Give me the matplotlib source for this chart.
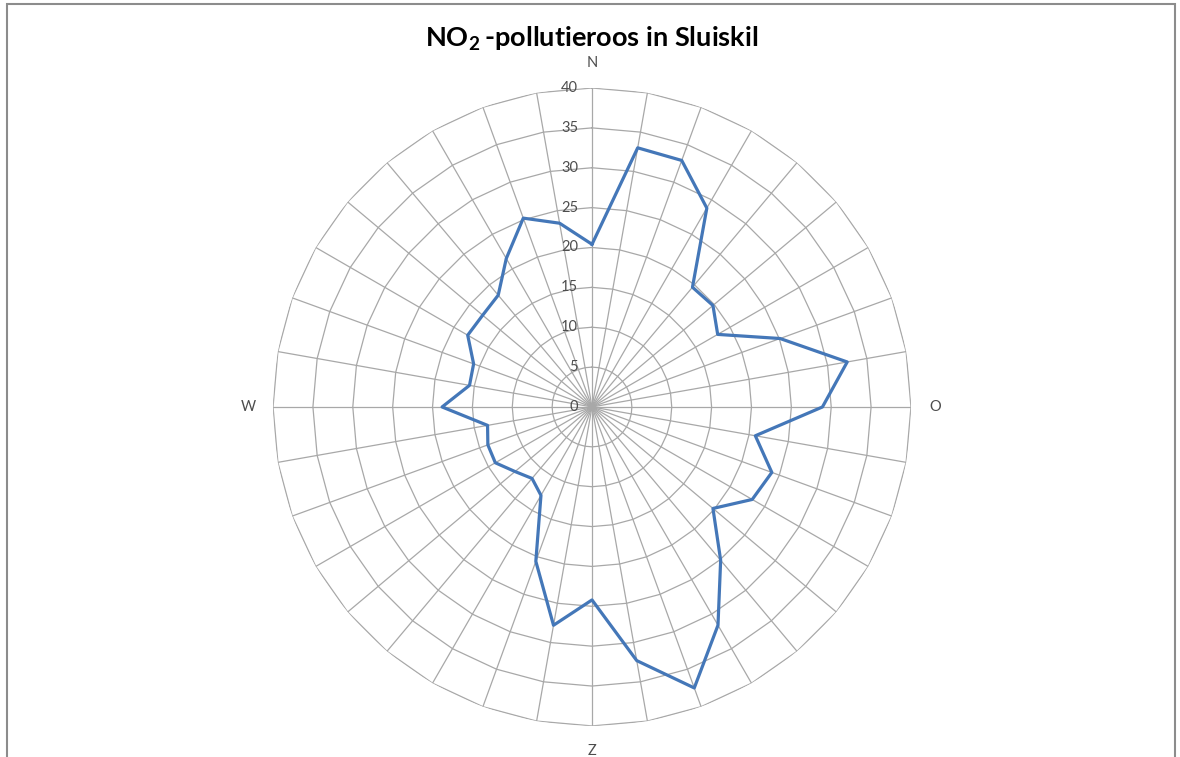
import numpy as np
import matplotlib
matplotlib.use("Agg")
import matplotlib.pyplot as plt
from matplotlib.patches import Rectangle

# --- DATA: NO2-concentratie per windrichting (N = 0°, met de klok mee) ---
richtingen = np.arange(0, 360, 10)
no2_waarden = [
    20.4, 33.0, 32.9, 28.8, 19.6, 19.8, 18.2, 25.1, 32.5,
    28.9, 20.8, 24.0, 23.2, 19.8, 25.1, 31.6, 37.5, 32.3,
    24.2, 27.8, 20.6, 12.8, 11.7, 12.6, 14.0, 13.9, 13.3,
    18.8, 15.6, 15.8, 18.0, 17.9, 18.3, 21.5, 25.2, 23.4,
]
ring_niveaus = [0, 5, 10, 15, 20, 25, 30, 35, 40]
windrichting_labels = {0: "N", 90: "O", 180: "Z", 270: "W"}

plt.rcParams["font.family"] = ["Lato", "DejaVu Sans"]
plt.rcParams["mathtext.fontset"] = "custom"
plt.rcParams["mathtext.bf"] = "Lato:bold"
plt.rcParams["mathtext.rm"] = "Lato:bold"
plt.rcParams["mathtext.default"] = "bf"

grid_kleur = "#a8a8a8"
tekst_kleur = "#4d4d4d"

fig = plt.figure(figsize=(11.8, 7.57), dpi=100)
ax = fig.add_axes([0.2314, 0.041, 0.5406, 0.8428], projection="polar")
ax.set_theta_zero_location("N")
ax.set_theta_direction(-1)
ax.set_ylim(0, 40)
ax.spines["polar"].set_visible(False)
ax.set_facecolor("none")

# spaken elke 10 graden, zonder labels
ax.set_thetagrids(richtingen, labels=[""] * len(richtingen))
ax.xaxis.grid(True, color=grid_kleur, linewidth=0.9)
ax.set_yticks([])
ax.yaxis.grid(False)

# veelhoekige ringen (zoals Excel radar)
theta_ring = np.radians(np.append(richtingen, 360))
for niveau in ring_niveaus[1:]:
    ax.plot(theta_ring, [niveau] * len(theta_ring), color=grid_kleur,
            linewidth=0.9, zorder=1)

# ringlabels links van de noordas
for niveau in ring_niveaus:
    ax.annotate(str(niveau), xy=(0, niveau), xytext=(-10, 0),
                textcoords="offset points", ha="right", va="center",
                fontsize=10.5, color=tekst_kleur, annotation_clip=False)

# windrichtingen
for hoek, label in windrichting_labels.items():
    ax.text(np.radians(hoek), 43.1, label, ha="center", va="center",
            fontsize=10.5, color=tekst_kleur)

# de meetreeks
theta = np.radians(np.append(richtingen, richtingen[0]))
waarden = no2_waarden + [no2_waarden[0]]
ax.plot(theta, waarden, color="#4477b8", linewidth=2.3, zorder=3)

fig.text(0.5017, 0.949, r"NO$_{2}\,$-pollutieroos in Sluiskil", ha="center",
         va="center", fontsize=19.5, fontweight="bold", color="black")

# kader rond de grafiek
fig.add_artist(Rectangle((7 / 1180, -0.05), (1175 - 7) / 1180, 1.05 - 4 / 757,
                         transform=fig.transFigure, fill=False,
                         edgecolor="#8c8c8c", linewidth=1.5))

fig.savefig("out.png", dpi=100)
